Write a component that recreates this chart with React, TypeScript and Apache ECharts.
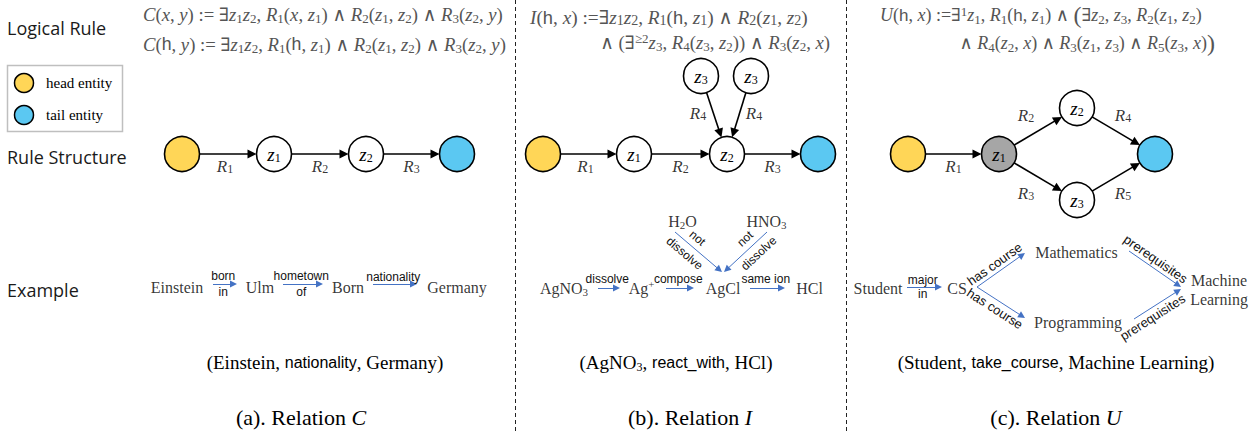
import React, { useEffect, useRef } from 'react';
import * as echarts from 'echarts';

const W = 1259;
const H = 434;

const SERIF = "'Liberation Serif', 'Times New Roman', Times, serif";
const SANS = "'Liberation Sans', Arial, Helvetica, sans-serif";
const MATH = "'Liberation Serif', 'DejaVu Serif', serif";
const HEAD = "'Open Sans', Lato, sans-serif";
const FCOL = '#555555';

// ---------- Row headers ----------
const rowHeaders = ['Logical Rule', 'Rule Structure', 'Example'];
const legendLabels = ['head entity', 'tail entity'];

// ---------- Logical rules (rich-text markup) ----------
const ruleA1 = '{i|C}({i|x}, {i|y}) := ∃{i|z}{s|1}{i|z}{s|2}, {i|R}{s|1}({i|x}, {i|z}{s|1}) ∧ {i|R}{s|2}({i|z}{s|1}, {i|z}{s|2}) ∧ {i|R}{s|3}({i|z}{s|2}, {i|y})';
const ruleA2 = '{i|C}({h|h}, {i|y}) := ∃{i|z}{s|1}{i|z}{s|2}, {i|R}{s|1}({h|h}, {i|z}{s|1}) ∧ {i|R}{s|2}({i|z}{s|1}, {i|z}{s|2}) ∧ {i|R}{s|3}({i|z}{s|2}, {i|y})';
const ruleB1 = '{i|I}({h|h}, {i|x}) :=∃{i|z}{s|1}{i|z}{s|2}, {i|R}{s|1}({h|h}, {i|z}{s|1}) ∧ {i|R}{s|2}({i|z}{s|1}, {i|z}{s|2})';
const ruleB2 = '∧ (∃{p|≥2}{i|z}{s|3}, {i|R}{s|4}({i|z}{s|3}, {i|z}{s|2})) ∧ {i|R}{s|3}({i|z}{s|2}, {i|x})';
const ruleC1 = '{i|U}({h|h}, {i|x}) :=∃{p|1}{i|z}{s|1}, {i|R}{s|1}({h|h}, {i|z}{s|1}) ∧ {b|(}∃{i|z}{s|2}, {i|z}{s|3}, {i|R}{s|2}({i|z}{s|1}, {i|z}{s|2})';
const ruleC2 = '∧ {i|R}{s|4}({i|z}{s|2}, {i|x}) ∧ {i|R}{s|3}({i|z}{s|1}, {i|z}{s|3}) ∧ {i|R}{s|5}({i|z}{s|3}, {i|x}){b|)}';

// ---------- Rule structures ----------
type RNode = { id: string; x: number; y: number; kind: 'head' | 'tail' | 'var' | 'hub'; sub?: string };

const nodesA: RNode[] = [
  { id: 'h', x: 182, y: 154, kind: 'head' },
  { id: 'z1', x: 274, y: 154, kind: 'var', sub: '1' },
  { id: 'z2', x: 366, y: 154, kind: 'var', sub: '2' },
  { id: 't', x: 457, y: 154, kind: 'tail' },
];
const edgesA: [string, string, string][] = [['h', 'z1', '1'], ['z1', 'z2', '2'], ['z2', 't', '3']];

const nodesB: RNode[] = [
  { id: 'h', x: 543, y: 154, kind: 'head' },
  { id: 'z1', x: 634, y: 154, kind: 'var', sub: '1' },
  { id: 'z2', x: 727, y: 154, kind: 'var', sub: '2' },
  { id: 't', x: 818, y: 154, kind: 'tail' },
  { id: 'z3a', x: 701, y: 76, kind: 'var', sub: '3' },
  { id: 'z3b', x: 751, y: 76, kind: 'var', sub: '3' },
];
const edgesB: [string, string, string][] = [['h', 'z1', '1'], ['z1', 'z2', '2'], ['z2', 't', '3'], ['z3a', 'z2', '4'], ['z3b', 'z2', '4']];

const nodesC: RNode[] = [
  { id: 'h', x: 908, y: 154, kind: 'head' },
  { id: 'z1', x: 999, y: 154, kind: 'hub', sub: '1' },
  { id: 'z2', x: 1077, y: 108, kind: 'var', sub: '2' },
  { id: 'z3', x: 1077, y: 200, kind: 'var', sub: '3' },
  { id: 't', x: 1155, y: 154, kind: 'tail' },
];
const edgesC: [string, string, string][] = [['h', 'z1', '1'], ['z1', 'z2', '2'], ['z1', 'z3', '3'], ['z2', 't', '4'], ['z3', 't', '5']];

// label offsets from edge midpoints (style)
const edgeLabelOffsetA = [[-3, 12], [0, 12], [0, 12]];
const edgeLabelOffsetB = [[-3, 12], [0, 12], [0, 12], [-16, -2], [15, -2]];
const edgeLabelOffsetC = [[0, 12], [-12, -16], [-12, 16], [7, -16], [7, 16]];

// ---------- Examples ----------
const exampleWords = [
  'Einstein', 'Ulm', 'Born', 'Germany',
  'AgNO{s|3}', 'Ag{p|+}', 'AgCl', 'HCl', 'H{s|2}O', 'HNO{s|3}',
  'Student', 'CS', 'Mathematics', 'Programming', 'Machine\nLearning',
];
const exampleWordX = [177, 260, 348, 457, 564, 641.5, 723, 809.5, 682.5, 766.5, 878, 957, 1076.5, 1078, 1219];
const exampleWordY = [287, 287, 287, 287, 288, 288, 288, 288, 221, 221, 288, 288, 252, 322, 289.5];

const exampleArrowFrom = [[213, 284], [283, 284], [373, 284], [598, 288], [666, 288], [750, 288], [675, 232], [767, 232], [907, 287], [977, 287], [977, 287], [1129, 251], [1134, 319]];
const exampleArrowTo = [[237, 284], [323, 284], [417, 284], [620, 288], [694, 288], [785, 288], [722, 272], [724, 272], [942, 287], [1025, 253], [1025, 318], [1181, 287], [1181, 289]];
const exampleArrowText = ['born\nin', 'hometown\nof', 'nationality', 'dissolve', 'compose', 'same ion', 'not\ndissolve', 'not\ndissolve', 'major\nin', 'has course', 'has course', 'prerequisites', 'prerequisites'];

const arrowLabelStyle: any[] = [
  { position: 'middle', verticalAlign: 'middle', distance: 0, lineHeight: 16 },
  { position: 'middle', verticalAlign: 'middle', distance: 0, lineHeight: 16 },
  { position: 'middle', distance: 1 },
  { position: 'middle', distance: 3 },
  { position: 'middle', distance: 3 },
  { position: 'middle', distance: 3 },
  { position: 'middle', verticalAlign: 'middle', distance: 0, lineHeight: 20, padding: [0, 16, 0, 0] },
  { position: 'middle', verticalAlign: 'middle', distance: 0, lineHeight: 20, padding: [0, 0, 0, 14] },
  { position: 'middle', verticalAlign: 'middle', distance: 0, lineHeight: 14 },
  { position: 'middle', distance: 2, fontSize: 13 },
  { position: 'insideMiddleBottom', distance: 2, fontSize: 13 },
  { position: 'middle', distance: 2, fontSize: 13, padding: [0, 7, 0, 0] },
  { position: 'insideMiddleBottom', distance: 2, fontSize: 13, padding: [0, 19, 0, 0] },
];

// ---------- Captions ----------
const tripleCaptions = [
  '(Einstein, {r|nationality}, Germany)',
  '(AgNO{s|3}, {r|react_with}, HCl)',
  '(Student, {r|take_course}, Machine Learning)',
];
const tripleCaptionX = [325, 676, 1056];
const relationCaptions = ['(a). Relation {i|C}', '(b). Relation {i|I}', '(c). Relation {i|U}'];
const relationCaptionX = [301, 690, 1056];

const NODE_FILL: Record<string, string> = { head: '#FFD657', tail: '#5BC8F2', hub: '#A6A6A6', var: '#FFFFFF' };
const NODE_R = 17.5;
const RULE_ARROW = 9;
const EX_ARROW = 7;

function cut(p1: number[], p2: number[], a: number, b: number) {
  const dx = p2[0] - p1[0];
  const dy = p2[1] - p1[1];
  const L = Math.hypot(dx, dy);
  const ux = dx / L;
  const uy = dy / L;
  return [[p1[0] + ux * a, p1[1] + uy * a], [p2[0] - ux * b, p2[1] - uy * b]];
}

function formulaRich(fs: number) {
  return {
    i: { fontStyle: 'italic', fontSize: fs, fontFamily: MATH, fill: FCOL },
    s: { fontSize: Math.round(fs * 0.7), fontFamily: MATH, fill: FCOL, verticalAlign: 'bottom' },
    p: { fontSize: Math.round(fs * 0.7), fontFamily: MATH, fill: FCOL, verticalAlign: 'top' },
    h: { fontSize: fs - 1, fontFamily: SANS, fill: FCOL },
    b: { fontSize: Math.round(fs * 1.35), fontFamily: MATH, fill: FCOL },
  };
}

function formula(text: string, x: number, y: number, align: string, fs: number) {
  return {
    type: 'text',
    x,
    y,
    style: {
      text,
      rich: formulaRich(fs),
      fontSize: fs,
      fontFamily: MATH,
      fill: FCOL,
      align,
      verticalAlign: 'middle',
      lineHeight: 21,
    },
  };
}

function buildOption() {
  const panels = [
    { nodes: nodesA, edges: edgesA, offs: edgeLabelOffsetA },
    { nodes: nodesB, edges: edgesB, offs: edgeLabelOffsetB },
    { nodes: nodesC, edges: edgesC, offs: edgeLabelOffsetC },
  ];
  const ruleEdgeData: any[] = [];
  const edgeLabelData: any[] = [];
  const ruleNodeData: any[] = [];
  panels.forEach((p) => {
    const byId: Record<string, RNode> = {};
    p.nodes.forEach((n) => {
      byId[n.id] = n;
      ruleNodeData.push({
        value: [n.x, n.y],
        name: n.sub ? `{z|z}{s|${n.sub}}` : '',
        itemStyle: { color: NODE_FILL[n.kind] },
      });
    });
    p.edges.forEach(([a, b, k], i) => {
      const A = byId[a];
      const B = byId[b];
      ruleEdgeData.push({ coords: cut([A.x, A.y], [B.x, B.y], NODE_R, NODE_R + RULE_ARROW / 2) });
      const off = p.offs[i];
      edgeLabelData.push({ value: [(A.x + B.x) / 2 + off[0], (A.y + B.y) / 2 + off[1]], name: `{R|R}{s|${k}}` });
    });
  });

  const exampleArrowData = exampleArrowFrom.map((f, i) => ({
    coords: cut(f, exampleArrowTo[i], 0, EX_ARROW / 2),
    label: { show: true, formatter: exampleArrowText[i], ...arrowLabelStyle[i] },
  }));

  const exampleWordData = exampleWords.map((w, i) => ({ value: [exampleWordX[i], exampleWordY[i]], name: w }));

  const graphic: any[] = [];
  // dividers
  [515.5, 846.5].forEach((x) => {
    graphic.push({ type: 'line', shape: { x1: x, y1: 0, x2: x, y2: H }, style: { stroke: '#222', lineWidth: 1, lineDash: [4, 3] } });
  });
  // row headers
  const headerY = [28, 157, 290];
  rowHeaders.forEach((t, i) => {
    graphic.push({ type: 'text', x: 7, y: headerY[i], style: { text: t, fontSize: 18, fontFamily: HEAD, fill: '#1a1a1a', verticalAlign: 'middle' } });
  });
  // legend box
  graphic.push({ type: 'rect', shape: { x: 7.5, y: 65.5, width: 115, height: 66 }, style: { fill: '#fff', stroke: '#BFBFBF', lineWidth: 1.5 } });
  const legendY = [83, 115];
  legendLabels.forEach((t, i) => {
    graphic.push({ type: 'circle', shape: { cx: 24, cy: legendY[i], r: 9.5 }, style: { fill: i === 0 ? NODE_FILL.head : NODE_FILL.tail, stroke: '#000', lineWidth: 1.5 } });
    graphic.push({ type: 'text', x: 46, y: legendY[i], style: { text: t, fontSize: 15, fontFamily: SERIF, fill: '#000', verticalAlign: 'middle' } });
  });
  // formulas
  graphic.push(formula(ruleA1, 143, 14, 'left', 18.7));
  graphic.push(formula(ruleA2, 143, 44, 'left', 18.7));
  graphic.push(formula(ruleB1, 530, 17, 'left', 19.3));
  graphic.push(formula(ruleB2, 830, 42, 'right', 18.7));
  graphic.push(formula(ruleC1, 880, 15, 'left', 18));
  graphic.push(formula(ruleC2, 1215, 43, 'right', 18));
  // captions
  tripleCaptions.forEach((t, i) => {
    graphic.push({
      type: 'text', x: tripleCaptionX[i], y: 362,
      style: {
        text: t, fontSize: 19, fontFamily: SERIF, fill: '#000', align: 'center', verticalAlign: 'middle', lineHeight: 22,
        rich: {
          r: { fontSize: 16, fontFamily: SANS, fill: '#000' },
          s: { fontSize: 12, fontFamily: SERIF, fill: '#000', verticalAlign: 'bottom' },
        },
      },
    });
  });
  relationCaptions.forEach((t, i) => {
    graphic.push({
      type: 'text', x: relationCaptionX[i], y: 417,
      style: {
        text: t, fontSize: 22, fontFamily: SERIF, fill: '#000', align: 'center', verticalAlign: 'middle',
        rich: { i: { fontSize: 22, fontStyle: 'italic', fontFamily: MATH, fill: '#000' } },
      },
    });
  });

  return {
    animation: false,
    backgroundColor: '#ffffff',
    grid: { left: 0, right: 0, top: 0, bottom: 0 },
    xAxis: { type: 'value', min: 0, max: W, show: false },
    yAxis: { type: 'value', min: 0, max: H, inverse: true, show: false },
    graphic,
    series: [
      {
        type: 'lines',
        name: 'ruleEdges',
        coordinateSystem: 'cartesian2d',
        silent: true,
        z: 1,
        symbol: ['none', 'triangle'],
        symbolSize: [RULE_ARROW, RULE_ARROW],
        lineStyle: { color: '#000', width: 1.6, opacity: 1 },
        data: ruleEdgeData,
      },
      {
        type: 'scatter',
        name: 'ruleNodes',
        silent: true,
        z: 3,
        symbol: 'circle',
        symbolSize: NODE_R * 2,
        itemStyle: { borderColor: '#000', borderWidth: 1.6, opacity: 1 },
        label: {
          show: true,
          position: 'inside',
          formatter: (p: any) => p.name,
          color: '#000',
          lineHeight: 20,
          rich: {
            z: { fontStyle: 'italic', fontSize: 19, fontFamily: MATH, color: '#000', lineHeight: 20 },
            s: { fontSize: 12, fontFamily: MATH, color: '#000', verticalAlign: 'bottom', lineHeight: 20 },
          },
        },
        data: ruleNodeData,
      },
      {
        type: 'scatter',
        name: 'ruleEdgeLabels',
        silent: true,
        z: 4,
        symbol: 'circle',
        symbolSize: 1,
        itemStyle: { color: 'rgba(0,0,0,0)' },
        label: {
          show: true,
          position: 'inside',
          formatter: (p: any) => p.name,
          color: '#000',
          lineHeight: 18,
          rich: {
            R: { fontStyle: 'italic', fontSize: 17, fontFamily: MATH, color: '#000', lineHeight: 18 },
            s: { fontSize: 12, fontFamily: MATH, color: '#000', verticalAlign: 'bottom', lineHeight: 18 },
          },
        },
        data: edgeLabelData,
      },
      {
        type: 'lines',
        name: 'exampleArrows',
        coordinateSystem: 'cartesian2d',
        silent: true,
        z: 2,
        symbol: ['none', 'triangle'],
        symbolSize: [EX_ARROW, EX_ARROW],
        lineStyle: { color: '#4472C4', width: 1, opacity: 1 },
        itemStyle: { color: '#4472C4' },
        label: { show: true, fontFamily: SANS, fontSize: 12, color: '#111' },
        data: exampleArrowData,
      },
      {
        type: 'scatter',
        name: 'exampleWords',
        silent: true,
        z: 4,
        symbol: 'circle',
        symbolSize: 1,
        itemStyle: { color: 'rgba(0,0,0,0)' },
        label: {
          show: true,
          position: 'inside',
          formatter: (p: any) => p.name,
          fontFamily: SERIF,
          fontSize: 16,
          color: '#000',
          lineHeight: 19,
          rich: {
            s: { fontFamily: SERIF, fontSize: 11, color: '#000', verticalAlign: 'bottom', lineHeight: 19 },
            p: { fontFamily: SERIF, fontSize: 11, color: '#000', verticalAlign: 'top', lineHeight: 19 },
          },
        },
        data: exampleWordData,
      },
    ],
  };
}

export default function App() {
  const ref = useRef<HTMLDivElement>(null);
  useEffect(() => {
    document.body.style.margin = '0';
    const chart = echarts.init(ref.current!, null, { renderer: 'svg' });
    chart.setOption(buildOption() as any);
    return () => chart.dispose();
  }, []);
  return <div ref={ref} style={{ position: 'absolute', left: 0, top: 0, width: W, height: H, background: '#fff' }} />;
}
